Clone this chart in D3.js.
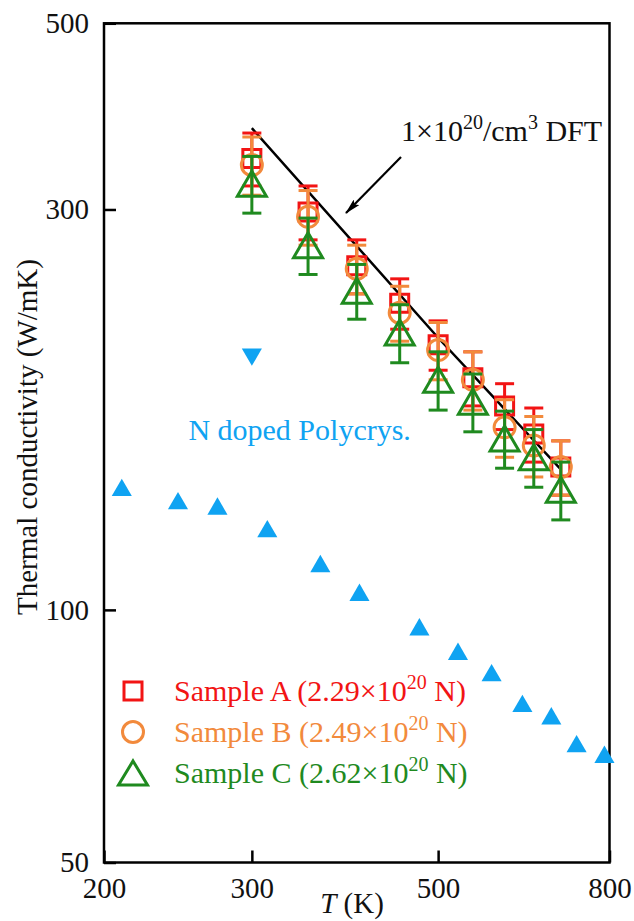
<!DOCTYPE html>
<html><head><meta charset="utf-8">
<script src="https://cdn.jsdelivr.net/npm/d3@7"></script>
<style>
html,body{margin:0;padding:0;background:#fff;}
svg{display:block;font-family:"Liberation Serif","Times New Roman",serif;}
</style></head>
<body>
<svg id="c" width="634" height="921"></svg>
<script>
// ---- data ----
const temps = [300, 350, 400, 450, 500, 550, 600, 650, 700];
const sampleA = [345, 298, 257, 232, 207, 189, 175, 162, 148];
const errA    = [25, 22, 19, 16, 14, 14, 11, 12, 11];
const sampleB = [339, 294, 255, 226, 204, 188, 165, 157, 148];
const errB    = [27, 22, 17, 17, 16, 15, 13, 13, 11];
const sampleC = [322, 272, 240, 214, 188, 177, 160, 152, 139];
const errC    = [25, 21, 18, 17, 15, 14, 12.5, 12, 11];
const dftT = [300, 500, 700];
const dftK = [375, 211, 147];
const polyT = [210, 245, 273, 313, 362, 403, 475, 528, 579, 630, 682, 731, 789];
const polyK = [140, 135, 133, 125, 113.6, 105, 95.5, 89.3, 84.2, 77.4, 74.8, 69.3, 67.3];
const polyDownT = [300];
const polyDownK = [200];
const xTicks = [200, 300, 500, 800];
const yTicks = [50, 100, 300, 500];
const seriesNames = ["Sample A", "Sample B", "Sample C"];
const seriesConc = ["2.29", "2.49", "2.62"];

// ---- setup ----
const svg = d3.select("#c");
const L = 104, R = 609.5, T = 23.3, B = 862.5;
const x = d3.scaleLog().domain([200, 800]).range([L, R]);
const y = d3.scaleLog().domain([50, 500]).range([B, T]);
const colors = ["#f21414", "#f28a3c", "#1f8a1f"];
const blue = "#0fa3f2";
const FS = 29;

svg.append("rect").attr("width", 634).attr("height", 921).attr("fill", "#fff");

// axes
const xAxis = d3.axisBottom(x).tickValues(xTicks).tickFormat(d3.format("d"))
  .tickSizeInner(-12).tickSizeOuter(0).tickPadding(15);
const gx = svg.append("g").attr("transform", `translate(0,${B})`).call(xAxis);
const yAxis = d3.axisLeft(y).tickValues(yTicks).tickFormat(d3.format("d"))
  .tickSizeInner(-12).tickSizeOuter(0).tickPadding(15);
const gy = svg.append("g").attr("transform", `translate(${L},0)`).call(yAxis);
[gx, gy].forEach(g => {
  g.select(".domain").remove();
  g.selectAll(".tick line").attr("stroke", "#000").attr("stroke-width", 2.5);
  g.selectAll(".tick text").attr("fill", "#111").attr("font-size", FS)
    .attr("font-family", '"Liberation Serif","Times New Roman",serif');
});

// frame
svg.append("rect").attr("x", L).attr("y", T).attr("width", R - L).attr("height", B - T)
  .attr("fill", "none").attr("stroke", "#000").attr("stroke-width", 2.5);

// axis titles
const xt = svg.append("text").attr("x", 352).attr("y", 913).attr("text-anchor", "middle")
  .attr("font-size", FS).attr("fill", "#111");
xt.append("tspan").attr("font-style", "italic").text("T");
xt.append("tspan").text(" (K)");
svg.append("text").attr("transform", "translate(37,437) rotate(-90)")
  .attr("text-anchor", "middle").attr("font-size", FS).attr("fill", "#111")
  .text("Thermal conductivity (W/mK)");

// polycrystal (blue)
const triUp = d3.symbol().type(d3.symbolTriangle).size(175);
svg.append("g").selectAll("path").data(polyT.map((t, i) => [t, polyK[i]])).join("path")
  .attr("d", triUp)
  .attr("transform", d => `translate(${x(d[0])},${y(d[1]) + 3})`)
  .attr("fill", blue);
svg.append("g").selectAll("path").data(polyDownT.map((t, i) => [t, polyDownK[i]])).join("path")
  .attr("d", triUp)
  .attr("transform", d => `translate(${x(d[0])},${y(d[1]) - 3}) rotate(180)`)
  .attr("fill", blue);
svg.append("text").attr("x", x(342)).attr("y", y(159.4)).attr("text-anchor", "middle")
  .attr("font-size", 30).attr("fill", blue).text("N doped Polycrys.");

// DFT line
const line = d3.line().x(d => x(d[0])).y(d => y(d[1]));
svg.append("path").datum(dftT.map((t, i) => [t, dftK[i]])).attr("d", line)
  .attr("fill", "none").attr("stroke", "#000").attr("stroke-width", 2.5);

// markers
function tri(w, h) {
  return `M0,${-h / 2}L${w / 2},${h / 2}L${-w / 2},${h / 2}Z`;
}
const shapes = [
  d3.symbol().type(d3.symbolSquare).size(18 * 18)(),
  d3.symbol().type(d3.symbolCircle).size(Math.PI * 10.5 * 10.5)(),
  tri(29, 25)
];
const sets = [[sampleA, errA], [sampleB, errB], [sampleC, errC]];
sets.forEach(([vals, errs], si) => {
  const g = svg.append("g").attr("stroke", colors[si]).attr("stroke-width", 3).attr("fill", "none");
  const pts = temps.map((t, i) => ({ t, k: vals[i], e: errs[i] }));
  const cap = 9.5;
  pts.forEach(p => {
    const cx = x(p.t), y1 = y(p.k + p.e), y2 = y(p.k - p.e);
    g.append("line").attr("x1", cx).attr("x2", cx).attr("y1", y1).attr("y2", y2);
    g.append("line").attr("x1", cx - cap).attr("x2", cx + cap).attr("y1", y1).attr("y2", y1);
    g.append("line").attr("x1", cx - cap).attr("x2", cx + cap).attr("y1", y2).attr("y2", y2);
    g.append("path").attr("d", shapes[si]).attr("transform", `translate(${cx},${y(p.k)})`);
  });
});

// DFT annotation
const dl = svg.append("text").attr("x", 401).attr("y", 141).attr("font-size", 30).attr("fill", "#111");
dl.append("tspan").text("1×10");
dl.append("tspan").attr("font-size", 20).attr("dy", -12).text("20");
dl.append("tspan").attr("dy", 12).text("/cm");
dl.append("tspan").attr("font-size", 20).attr("dy", -12).text("3");
dl.append("tspan").attr("dy", 12).text(" DFT");
svg.append("defs").append("marker").attr("id", "ah").attr("viewBox", "0 0 16 8")
  .attr("refX", 15).attr("refY", 4).attr("markerWidth", 16).attr("markerHeight", 8)
  .attr("markerUnits", "userSpaceOnUse").attr("orient", "auto")
  .append("path").attr("d", "M0,0L16,4L0,8L3,4Z").attr("fill", "#000");
svg.append("line").attr("x1", 401).attr("y1", 157).attr("x2", 346).attr("y2", 213)
  .attr("stroke", "#000").attr("stroke-width", 2.2).attr("marker-end", "url(#ah)");

// legend
const legY = [691, 732, 773];
seriesNames.forEach((n, i) => {
  svg.append("path").attr("d", i === 2 ? tri(29, 24) : shapes[i])
    .attr("transform", `translate(133,${legY[i]})`)
    .attr("fill", "none").attr("stroke", colors[i]).attr("stroke-width", 3);
  const t = svg.append("text").attr("x", 174).attr("y", legY[i] + 10)
    .attr("font-size", 30).attr("fill", colors[i]);
  t.append("tspan").text(`${n} (${seriesConc[i]}×10`);
  t.append("tspan").attr("font-size", 20).attr("dy", -12).text("20");
  t.append("tspan").attr("dy", 12).text(" N)");
});
</script>
</body></html>
